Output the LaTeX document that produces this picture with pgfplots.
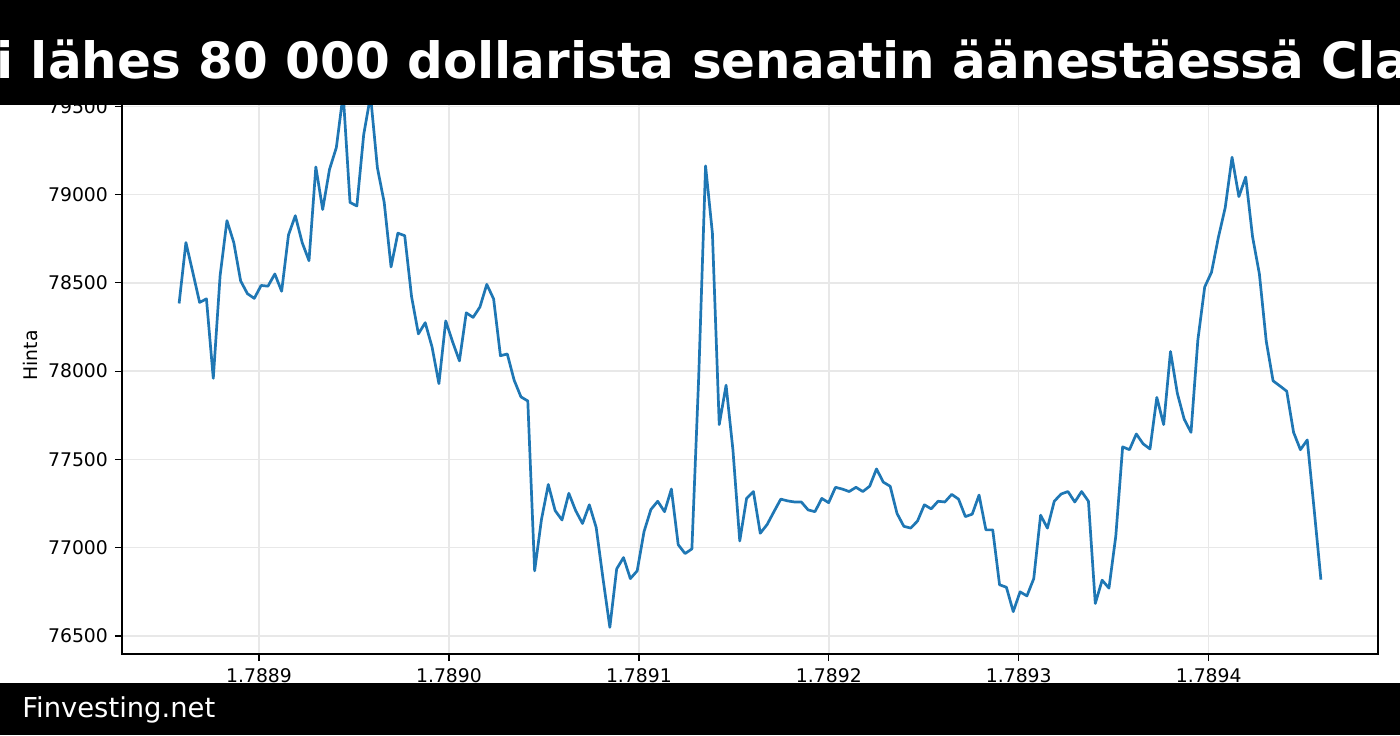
\documentclass[border=0pt]{standalone}
\usepackage{fontspec}
\setmainfont{DejaVu Sans}
\usepackage{pgfplots}
\usepackage{pgfplotstable}
\pgfplotsset{compat=1.18}
\definecolor{mplblue}{HTML}{1F77B4}
\definecolor{gridgray}{HTML}{E8E8E8}
\pgfplotstableread{
price
78383
78728
78560
78389
78409
77959
78541
78852
78728
78511
78438
78412
78485
78481
78550
78452
78771
78880
78728
78625
79156
78915
79142
79266
79570
78955
78935
79339
79560
79152
78955
78590
78781
78767
78422
78211
78274
78136
77929
78284
78166
78058
78330
78304
78363
78491
78409
78087
78097
77949
77854
77831
76869
77160
77358
77210
77157
77308
77210
77137
77243
77115
76825
76549
76880
76944
76825
76869
77091
77216
77263
77204
77332
77017
76967
76993
77970
79162
78781
77697
77920
77555
77038
77279
77318
77082
77131
77204
77275
77265
77259
77259
77214
77204
77279
77255
77342
77332
77318
77342
77318
77348
77446
77371
77348
77194
77121
77111
77151
77243
77220
77263
77259
77302
77275
77176
77190
77298
77101
77101
76790
76776
76638
76750
76727
76825
77184
77111
77263
77304
77318
77259
77318
77263
76684
76816
76771
77066
77571
77555
77644
77588
77559
77851
77697
78111
77874
77728
77653
78176
78476
78560
78757
78925
79211
78988
79099
78761
78550
78170
77945
77916
77886
77653
77555
77610
77220
76819
}\pricetable
\begin{document}
\begin{tikzpicture}
\useasboundingbox (0,0) rectangle (700pt,367.5pt);
\clip (0,0) rectangle (700pt,367.5pt);
\begin{axis}[
  at={(61pt,40.5pt)}, anchor=south west,
  scale only axis, width=628pt, height=295pt,
  xmin=-8.35, xmax=175.35, ymin=76398, ymax=79739,
  xtick={11.69,39.47,67.25,95.03,122.81,150.59},
  xticklabels={1.7889,1.7890,1.7891,1.7892,1.7893,1.7894},
  ytick={76500,77000,77500,78000,78500,79000,79500},
  scaled y ticks=false,
  yticklabel={\pgfmathprintnumber[fixed,precision=0,set thousands separator={},assume math mode=true]{\tick}},
  tick align=outside, tick pos=left,
  major tick length=3.5pt,
  every tick/.style={black, line width=0.6pt},
  grid=major, major grid style={gridgray, line width=0.7pt},
  axis line style={black, line width=0.7pt},
  tick label style={font=\fontsize{9.4}{11}\selectfont},
  ylabel={Hinta},
  ylabel style={font=\fontsize{9.4}{11}\selectfont, at={(axis description cs:-0.0732,0.506)}, anchor=center},
]
\addplot[mplblue, line width=1.35pt, mark=none, line join=round] table[x expr=\coordindex, y=price] {\pricetable};
\end{axis}
\fill[black] (0,315pt) rectangle (700pt,367.5pt);
\node[anchor=base west, text=white, inner sep=0pt, font=\bfseries\fontsize{25}{30}\selectfont] at (-2pt,328pt) {i lähes 80 000 dollarista senaatin äänestäessä Cla};
\fill[black] (0,0) rectangle (700pt,26pt);
\node[anchor=base west, text=white, inner sep=0pt, font=\fontsize{13.7}{16}\selectfont] at (11pt,9pt) {Finvesting.net};
\end{tikzpicture}
\end{document}
